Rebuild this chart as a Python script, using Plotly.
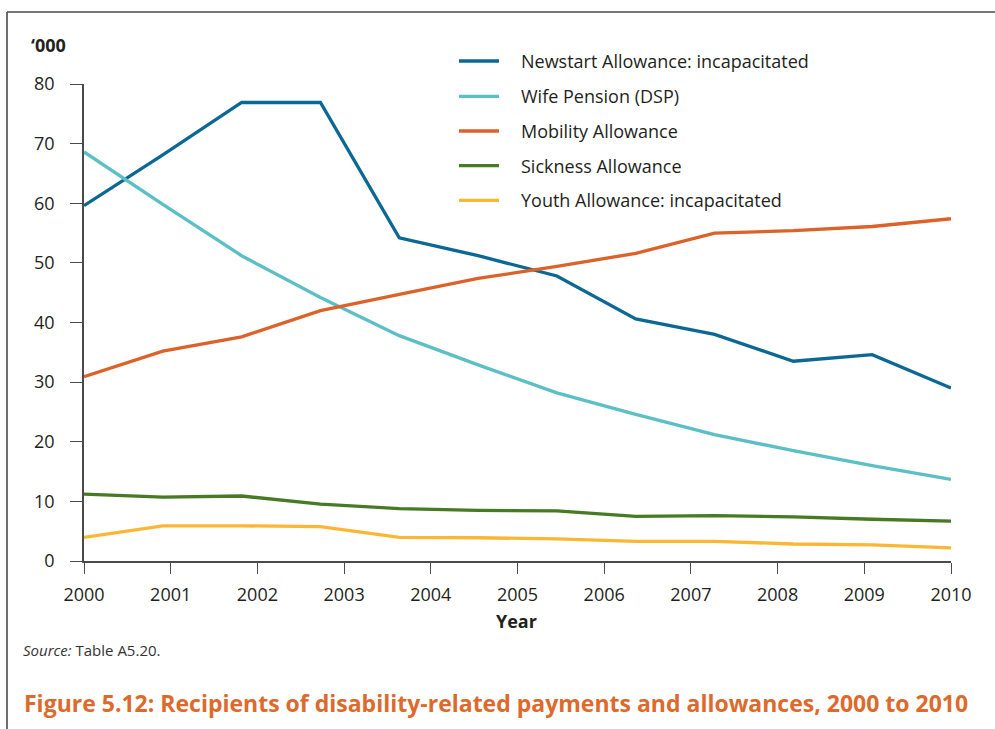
import plotly.graph_objects as go

# Year tick labels on the x axis
years = [2000, 2001, 2002, 2003, 2004, 2005, 2006, 2007, 2008, 2009, 2010]

# Twelve evenly spaced observations between 2000 and 2010 ('000 recipients)
newstart = [59.6, 68.1, 76.9, 76.9, 54.2, 51.2, 47.8, 40.6, 38.0, 33.5, 34.6, 29.0]
wife_pension = [68.6, 59.8, 51.2, 44.2, 37.8, 32.9, 28.2, 24.6, 21.2, 18.5, 16.0, 13.7]
mobility = [30.9, 35.2, 37.6, 42.0, 44.7, 47.4, 49.4, 51.6, 55.0, 55.4, 56.1, 57.4]
sickness = [11.2, 10.7, 10.9, 9.55, 8.8, 8.5, 8.4, 7.5, 7.6, 7.4, 7.0, 6.7]
youth = [3.96, 5.9, 5.9, 5.75, 3.96, 3.9, 3.7, 3.3, 3.3, 2.85, 2.7, 2.2]

series_names = [
    "Newstart Allowance: incapacitated",
    "Wife Pension (DSP)",
    "Mobility Allowance",
    "Sickness Allowance",
    "Youth Allowance: incapacitated",
]
series_values = [newstart, wife_pension, mobility, sickness, youth]
series_colors = ["#0b6894", "#5bbfc6", "#dc6229", "#467a24", "#fbb734"]

FONT = "Open Sans"
TEXT = "#231f20"
AXIS = "#4a4a4a"

W, H = 995, 729
L, R, T, B = 84, 44, 84, 168
PW, PH = W - L - R, H - T - B


def px(x):
    return (x - L) / PW


def py(y):
    return (H - B - y) / PH


n_obs = len(newstart)
obs_index = list(range(n_obs))
# place each year label along the same span as the observations
tick_pos = [(y - years[0]) / (years[-1] - years[0]) * (n_obs - 1) for y in years]

fig = go.Figure()
for name, vals, col in zip(series_names, series_values, series_colors):
    fig.add_trace(go.Scatter(
        x=obs_index, y=vals, mode="lines", name=name,
        line=dict(color=col, width=3.3), showlegend=False,
        hoverinfo="skip",
    ))

shapes = []
annotations = []

# legend drawn as line samples with labels
legend_rows = [61, 96.3, 131, 165.7, 200.3]
for name, col, yr in zip(series_names, series_colors, legend_rows):
    shapes.append(dict(type="line", xref="paper", yref="paper",
                       x0=px(459), x1=px(499), y0=py(yr), y1=py(yr),
                       line=dict(color=col, width=3.3)))
    annotations.append(dict(text=name, xref="paper", yref="paper",
                            x=px(519), y=py(yr), xanchor="left", yanchor="middle",
                            showarrow=False,
                            font=dict(family=FONT, size=18, color=TEXT)))

# outer frame (top and left edges)
shapes.append(dict(type="line", xref="paper", yref="paper",
                   x0=px(7), x1=px(1000), y0=py(12), y1=py(12),
                   line=dict(color="#4a4a4a", width=1.6)))
shapes.append(dict(type="line", xref="paper", yref="paper",
                   x0=px(7), x1=px(7), y0=py(12), y1=py(735),
                   line=dict(color="#4a4a4a", width=1.6)))

annotations += [
    dict(text="<b>‘000</b>", xref="paper", yref="paper", x=px(29), y=py(45),
         xanchor="left", yanchor="middle", showarrow=False,
         font=dict(family=FONT, size=18, color=TEXT)),
    dict(text="<b>Year</b>", xref="paper", yref="paper", x=px(516), y=py(621),
         xanchor="center", yanchor="middle", showarrow=False,
         font=dict(family=FONT, size=18, color=TEXT)),
    dict(text="<i>Source:</i> Table A5.20.", xref="paper", yref="paper",
         x=px(21), y=py(650), xanchor="left", yanchor="middle", showarrow=False,
         font=dict(family=FONT, size=15, color="#333333")),
    dict(text="<b>Figure 5.12: Recipients of disability-related payments and allowances, 2000 to 2010</b>",
         xref="paper", yref="paper", x=px(22), y=py(703), xanchor="left",
         yanchor="middle", showarrow=False,
         font=dict(family=FONT, size=23, color="#dd6a2c")),
]

fig.update_layout(
    width=W, height=H,
    margin=dict(l=L, r=R, t=T, b=B, pad=0),
    paper_bgcolor="white", plot_bgcolor="white",
    shapes=shapes, annotations=annotations,
    xaxis=dict(
        range=[0, n_obs - 1], tickmode="array", tickvals=tick_pos,
        ticktext=[str(y) for y in years],
        showgrid=False, zeroline=False,
        showline=True, linecolor=AXIS, linewidth=1.5,
        ticks="outside", ticklen=11, tickwidth=1.3, tickcolor=AXIS,
        ticklabelstandoff=6,
        tickfont=dict(family=FONT, size=18, color=TEXT),
    ),
    yaxis=dict(
        range=[0, 80], tickvals=[0, 10, 20, 30, 40, 50, 60, 70, 80],
        showgrid=False, zeroline=False,
        showline=True, linecolor=AXIS, linewidth=1.5,
        ticks="outside", ticklen=12, tickwidth=1.3, tickcolor=AXIS,
        ticklabelstandoff=12,
        tickfont=dict(family=FONT, size=18, color=TEXT),
    ),
)

fig.write_html("out.html")
